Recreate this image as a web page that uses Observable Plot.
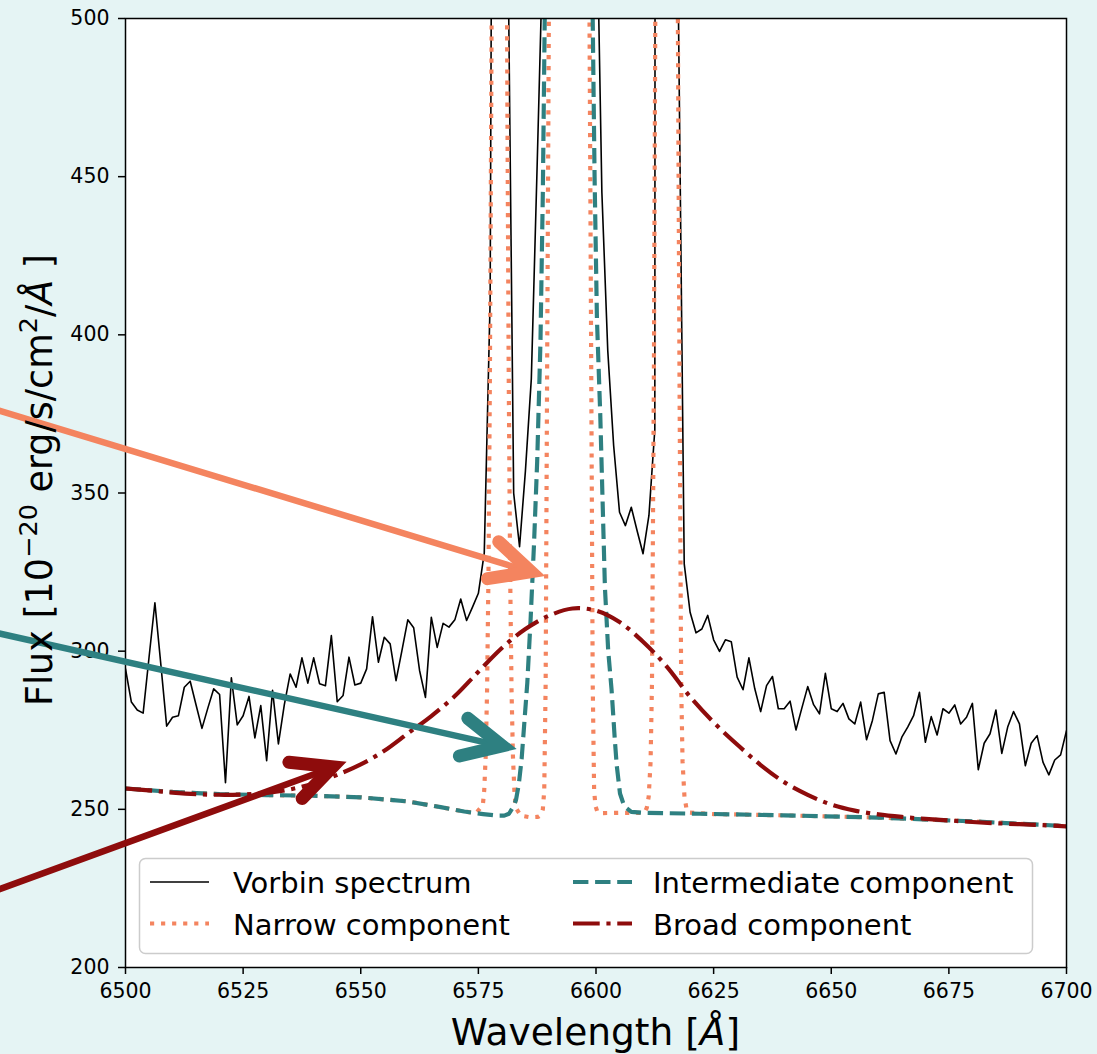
<!DOCTYPE html>
<html>
<head>
<meta charset="utf-8">
<script src="https://cdn.jsdelivr.net/npm/d3@7"></script>
<script src="https://cdn.jsdelivr.net/npm/@observablehq/plot@0.6"></script>
<style>
  html, body { margin: 0; padding: 0; background: #e5f4f4; }
  #chart { width: 1097px; height: 1054px; }
  svg { display: block; }
</style>
</head>
<body>
<div id="chart"></div>
<script>
// ---------------- data ----------------
// Spectrum sampled on a regular 1.25 Å grid starting at 6500 Å
const wavelengthStart = 6500;
const wavelengthStep = 1.25;
const spectrumFlux = [
  294.4, 283.9, 281.4, 280.4, 298, 315.3, 296, 276.3, 279.1, 279.6,
  288.6, 290.5, 283, 275.6, 282, 288.1, 286.3, 258.4, 291.6, 276.7,
  279.6, 285.7, 272.6, 282.8, 265.4, 287.6, 270.7, 283, 292.8, 288.6,
  297.9, 289.9, 297.9, 289.7, 289.1, 304.9, 284, 286, 298.1, 289.3,
  289.9, 294.4, 310.9, 296.5, 304.4, 302.3, 290.7, 300.2, 309.9, 307.4,
  293.9, 285.4, 310.7, 301.2, 308.8, 307.6, 309.9, 316.5, 309.7, 313.9,
  318.3, 331, 411, 900, 1100, 530, 350, 333, 357, 386,
  454, 525, 800, 1500, 2500, 3000, 2800, 2000, 1200, 750,
  550, 445, 395, 365, 343.9, 339.7, 345.5, 338, 330.8, 342.9,
  370, 4000, 9000, 4000, 505, 327.6, 312.3, 305.8, 307, 311.3,
  303.6, 299.9, 303.6, 303.0, 291.8, 287.8, 297.9, 288.1, 280.9, 289.1,
  292.0, 281.8, 281.8, 284.2, 275.1, 282, 288.8, 283.1, 280.2, 293.0,
  281.8, 280.9, 283.5, 278.6, 277.0, 283.9, 272.0, 278.1, 286.5, 287.0,
  271.7, 267.5, 272.8, 276.0, 279.6, 287.0, 271.2, 279.3, 273.5, 281.8,
  280.4, 283.0, 277.0, 279.1, 283.5, 262.5, 270.9, 273.9, 281.4, 267.7,
  276.0, 280.9, 277.0, 263.8, 270.9, 273.3, 264.9, 260.9, 265.6, 267.2,
  274.9
];

// Narrow component
const narrowWave = [
  6500, 6510, 6520, 6530, 6540, 6550, 6560, 6567, 6572, 6574.5,
  6575.95, 6576.25, 6576.55, 6576.85, 6577.15, 6577.45, 6577.75, 6578.05, 6578.45, 6578.95,
  6579.45, 6579.95, 6580.45, 6580.85, 6581.15, 6581.45, 6581.75, 6582.05, 6582.35, 6582.65,
  6582.95, 6584, 6586, 6587.5,
  6587.8, 6588.3, 6588.7, 6589.0, 6589.3, 6589.6, 6589.98, 6590.3, 6590.8, 6591.8,
  6593.1, 6594.3, 6595.5, 6596.8, 6597.8, 6598.3, 6598.62, 6599.0, 6599.3, 6599.6,
  6599.9, 6600.3, 6601, 6605, 6609.5,
  6610.3, 6610.8, 6611.2, 6611.6, 6611.9, 6612.3, 6612.6, 6613.0, 6613.5, 6614.2,
  6615.0, 6615.8, 6616.5, 6617.0, 6617.4, 6617.75, 6618.1, 6618.4, 6618.8, 6619.2,
  6619.7, 6625, 6640, 6660, 6680, 6700
];
const narrowFlux = [
  256.6, 255.5, 254.8, 254.5, 254.3, 253.8, 252.5, 250.7, 249.3, 248.8,
  251.3, 256.2, 266.7, 287.6, 325, 386.6, 477.5, 597, 788, 1007,
  1098, 1007, 788, 597, 477.5, 386.6, 325, 287.6, 266.7, 256,
  250.5, 248.0, 247.5, 247.6,
  247.7, 248.2, 250, 256, 290, 385, 500, 650, 1100, 2500,
  4200, 4800, 4200, 2500, 1100, 650, 500, 385, 290, 256,
  251, 249.2, 248.8, 248.9, 248.9,
  249.0, 250.5, 254, 265, 290, 386, 500, 900, 1700, 3000,
  3550, 3000, 1700, 900, 500, 386, 290, 265, 254, 250.5,
  249.0, 248.5, 248.1, 247.4, 246.2, 244.7
];

// Intermediate component
const interWave = [
  6500, 6510, 6520, 6530, 6540, 6550, 6560, 6567, 6572, 6576,
  6579, 6580.5, 6581.5, 6582.3, 6583.0, 6583.6, 6584.2, 6584.8, 6585.4, 6586.1,
  6586.8, 6587.5, 6588.2, 6588.7, 6589.1, 6590, 6591.5, 6593, 6594.3, 6595.6,
  6597.1, 6598.5, 6599.3, 6599.7, 6600.2, 6600.9, 6601.9, 6602.6, 6603.3, 6604.0,
  6604.4, 6605.1, 6606, 6607.5, 6610, 6622, 6640, 6660, 6680, 6700
];
const interFlux = [
  256.6, 255.5, 254.8, 254.5, 254.3, 253.8, 252.5, 250.7, 249.3, 248.5,
  248.0, 248.0, 248.6, 250.5, 253, 258, 266, 278, 290, 310,
  333, 360, 398, 445, 500, 620, 1000, 1400, 1550, 1400,
  1000, 620, 500, 450, 405, 375, 320, 300, 288, 272,
  264, 255, 251, 249.2, 248.9, 248.6, 248.1, 247.4, 246.2, 244.7
];

// Broad component (every 5 Å)
const broadWave = [
  6500, 6505, 6510, 6515, 6520, 6525, 6530, 6535, 6540, 6545,
  6550, 6555, 6560, 6565, 6570, 6575, 6580, 6585, 6590, 6595,
  6600, 6605, 6610, 6615, 6620, 6625, 6630, 6635, 6640, 6645,
  6650, 6655, 6660, 6665, 6670, 6675, 6680, 6685, 6690, 6695, 6700
];
const broadFlux = [
  256.6, 256.0, 255.3, 254.8, 254.6, 254.7, 255.2, 256.3, 258.2, 260.9,
  264.2, 268.5, 274.0, 279.5, 285.8, 293.5, 301.0, 307.0, 311.2, 313.5,
  312.8, 309.2, 303.0, 295.2, 285.6, 277.5, 270.5, 264.0, 258.6, 254.6,
  251.5, 249.6, 248.4, 247.6, 247.0, 246.5, 246.0, 245.6, 245.3, 245.0, 244.6
];

// Axis ticks
const xTicks = [6500, 6525, 6550, 6575, 6600, 6625, 6650, 6675, 6700];
const yTicks = [200, 250, 300, 350, 400, 450, 500];

// Legend labels
const seriesLabels = ["Vorbin spectrum", "Narrow component", "Intermediate component", "Broad component"];

// Annotation arrows (data coordinates: tail -> tip)
const arrowNames = ["narrow", "intermediate", "broad"];
const arrowX1 = [6460, 6460, 6460];
const arrowY1 = [382.0, 310.0, 217.6];
const arrowX2 = [6589.3, 6583.25, 6547.1];
const arrowY2 = [323.6, 268.9, 264.9];

// ---------------- styles ----------------
const colSpectrum = "#000000";
const colNarrow = "#f4845f";
const colInter = "#2e8081";
const colBroad = "#8e0c0c";
const lw = 4.17;
const dashNarrow = "4.17,6.88";
const dashInter = "15.4,6.7";
const dashBroad = "26.7,6.7,4.17,6.7";
const arrowColors = [colNarrow, colInter, colBroad];

// ---------------- build tables ----------------
const spectrum = spectrumFlux.map((f, i) => ({wave: wavelengthStart + i * wavelengthStep, flux: f}));
const narrow = narrowWave.map((w, i) => ({wave: w, flux: narrowFlux[i]}));
const inter = interWave.map((w, i) => ({wave: w, flux: interFlux[i]}));
const broad = broadWave.map((w, i) => ({wave: w, flux: broadFlux[i]}));
const arrows = arrowNames.map((n, i) => ({name: n, x1: arrowX1[i], y1: arrowY1[i], x2: arrowX2[i], y2: arrowY2[i], color: arrowColors[i]}));

const W = 1097, H = 1054;
const mL = 125, mR = 31, mT = 18, mB = 87;

const chart = Plot.plot({
  width: W,
  height: H,
  marginLeft: mL,
  marginRight: mR,
  marginTop: mT,
  marginBottom: mB,
  style: {background: "#e5f4f4", fontFamily: "DejaVu Sans, sans-serif", color: "black", overflow: "visible"},
  x: {domain: [6500, 6700]},
  y: {domain: [200, 500]},
  marks: [
    Plot.frame({fill: "white", stroke: null}),
    Plot.line(spectrum, {x: "wave", y: "flux", stroke: colSpectrum, strokeWidth: 1.6, clip: true}),
    Plot.line(narrow, {x: "wave", y: "flux", stroke: colNarrow, strokeWidth: lw, strokeDasharray: dashNarrow, strokeLinecap: "butt", clip: true}),
    Plot.line(inter, {x: "wave", y: "flux", stroke: colInter, strokeWidth: lw, strokeDasharray: dashInter, strokeLinecap: "butt", clip: true}),
    Plot.line(broad, {x: "wave", y: "flux", stroke: colBroad, strokeWidth: lw, strokeDasharray: dashBroad, strokeLinecap: "butt", curve: "catmull-rom", clip: true}),
    Plot.frame({stroke: "black", strokeWidth: 1.5}),
    Plot.axisX({ticks: xTicks, tickSize: 7, tickPadding: 9, tickFormat: d3.format("d"), label: null, fontSize: 20.5, strokeWidth: 1.5}),
    Plot.axisY({ticks: yTicks, tickSize: 7, tickPadding: 9, tickFormat: d3.format("d"), label: null, fontSize: 20.5, strokeWidth: 1.5}),
    Plot.arrow(arrows, {x1: "x1", y1: "y1", x2: "x2", y2: "y2", stroke: "color", strokeWidth: 6.5, headLength: 0, insetEnd: 12})
  ]
});
document.getElementById("chart").appendChild(chart);

// ---------------- arrowheads, labels, legend ----------------
const sx = chart.scale("x"), sy = chart.scale("y");
const svg = d3.select(chart);
const headLen = 44, headHalf = 26 * Math.PI / 180, headW = 13;
const gHeads = svg.append("g");
arrows.forEach(a => {
  const px1 = sx.apply(a.x1), py1 = sy.apply(a.y1);
  const px2 = sx.apply(a.x2), py2 = sy.apply(a.y2);
  const back = Math.atan2(py1 - py2, px1 - px2);
  const off = (headW / 2) / Math.sin(headHalf);
  const vx = px2 + off * Math.cos(back), vy = py2 + off * Math.sin(back);
  const p1 = [vx + headLen * Math.cos(back + headHalf), vy + headLen * Math.sin(back + headHalf)];
  const p2 = [vx + headLen * Math.cos(back - headHalf), vy + headLen * Math.sin(back - headHalf)];
  gHeads.append("path")
    .attr("d", `M${p1[0]},${p1[1]}L${vx},${vy}L${p2[0]},${p2[1]}`)
    .attr("fill", "none").attr("stroke", a.color).attr("stroke-width", headW)
    .attr("stroke-linecap", "round").attr("stroke-linejoin", "miter").attr("stroke-miterlimit", 10);
});

// axis labels
const xl = svg.append("text")
  .attr("x", (mL + W - mR) / 2).attr("y", 1045)
  .attr("text-anchor", "middle").attr("font-size", 37.5).attr("fill", "black")
  .attr("font-family", "DejaVu Sans, sans-serif");
xl.append("tspan").text("Wavelength [");
xl.append("tspan").attr("font-style", "italic").text("Å");
xl.append("tspan").text("]");

const yl = svg.append("text")
  .attr("transform", `translate(52,480) rotate(-90)`)
  .attr("text-anchor", "middle").attr("font-size", 36.5).attr("fill", "black")
  .attr("font-family", "DejaVu Sans, sans-serif");
yl.append("tspan").text("Flux [10");
yl.append("tspan").attr("font-size", 25.5).attr("dy", -15).text("−20");
yl.append("tspan").attr("dy", 15).text(" erg/s/cm");
yl.append("tspan").attr("font-size", 25.5).attr("dy", -15).text("2");
yl.append("tspan").attr("dy", 15).text("/");
yl.append("tspan").attr("font-style", "italic").text("Å");
yl.append("tspan").text(" ]");

// legend
const lg = svg.append("g").attr("font-family", "DejaVu Sans, sans-serif").attr("font-size", 29).attr("text-anchor", "start");
lg.append("rect").attr("x", 139.5).attr("y", 858.5).attr("width", 893).attr("height", 95)
  .attr("rx", 6).attr("fill", "white").attr("fill-opacity", 0.8)
  .attr("stroke", "#cccccc").attr("stroke-width", 1.5);
const legendStyles = [
  {color: colSpectrum, width: 1.6, dash: null},
  {color: colNarrow, width: lw, dash: dashNarrow},
  {color: colInter, width: lw, dash: dashInter},
  {color: colBroad, width: lw, dash: dashBroad}
];
const legendPos = [
  {hx: 150, tx: 233, ty: 893, hy: 882},
  {hx: 150, tx: 233, ty: 935, hy: 923.5},
  {hx: 573, tx: 653, ty: 893, hy: 882},
  {hx: 573, tx: 653, ty: 935, hy: 923.5}
];
seriesLabels.forEach((lab, i) => {
  const p = legendPos[i], s = legendStyles[i];
  const ln = lg.append("line").attr("x1", p.hx).attr("x2", p.hx + 59).attr("y1", p.hy).attr("y2", p.hy)
    .attr("stroke", s.color).attr("stroke-width", s.width);
  if (s.dash) ln.attr("stroke-dasharray", s.dash);
  lg.append("text").attr("x", p.tx).attr("y", p.ty).attr("text-anchor", "start").attr("fill", "black").text(lab);
});
</script>
</body>
</html>
